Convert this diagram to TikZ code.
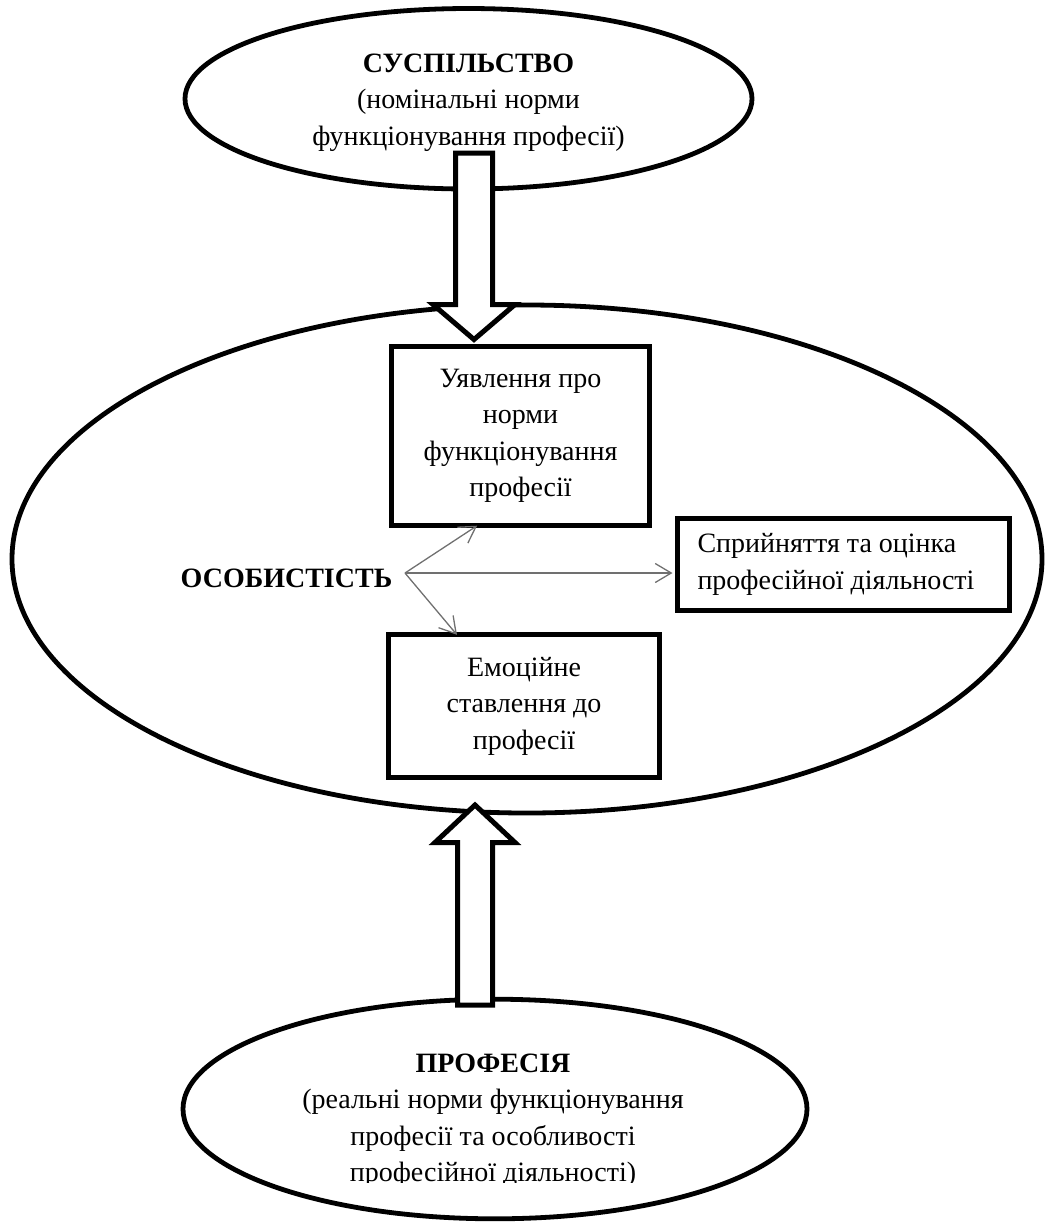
\documentclass[tikz,border=0pt]{standalone}
\usepackage{fontspec}
\setmainfont{Liberation Serif}
\usetikzlibrary{shapes.geometric,arrows.meta,calc}
\definecolor{arrowgray}{HTML}{707070}
\begin{document}
\begin{tikzpicture}[x=0.5pt,y=-0.5pt,
  font=\fontsize{14pt}{18.25pt}\selectfont,
  ell/.style={draw,ellipse,line width=2.4pt,inner sep=0pt,outer sep=0pt},
  rbox/.style={draw,fill=white,rectangle,line width=2.6pt,inner sep=0pt,outer sep=0pt,align=center},
  blockarrow/.style={draw,fill=white,line width=2.5pt,line join=miter,miter limit=10},
  garrow/.style={draw=arrowgray,line width=0.65pt,-{Straight Barb[length=8pt,width=9.5pt]}},
  txt/.style={align=center,inner sep=0pt}
]
\useasboundingbox (0,0) rectangle (1049,1223);

% ellipses
\node[ell, minimum width=515pt, minimum height=254pt] (pers) at (527,559) {};
\node[ell, minimum width=283.5pt, minimum height=90.25pt] (soc) at (468.5,98.75) {};
\node[ell, minimum width=312pt, minimum height=109.8pt] (prof) at (495,1109) {};

% block arrows
\draw[blockarrow] (455.5,153) -- (492.5,153) -- (492.5,304.5) -- (515,304.5) -- (474,339.5) -- (433,304.5) -- (455.5,304.5) -- cycle;
\draw[blockarrow] (457.5,1005) -- (492.5,1005) -- (492.5,842.5) -- (515,842.5) -- (475,805) -- (435,842.5) -- (457.5,842.5) -- cycle;

% boxes
\node[rbox, minimum width=129.2pt, minimum height=89.7pt] (idea) at (520.5,436) {Уявлення про\\норми\\функціонування\\професії};
\node[rbox, minimum width=135.7pt, minimum height=71.2pt] (emo) at (524,706) {Емоційне\\ставлення до\\професії};
\node[rbox, align=flush left, text width=146pt, inner xsep=10pt, minimum height=46.2pt] (perc) at (843.5,564.5) {Сприйняття та оцінка\\професійної діяльності};

% texts
\node[txt] (soct) at (468.5,102.3) {\textbf{СУСПІЛЬСТВО}\\(номінальні норми\\функціонування професії)};
\node[anchor=base, inner sep=0pt, font=\fontsize{14pt}{18.25pt}\selectfont\bfseries] (perst) at (286.5,587) {ОСОБИСТІСТЬ};
\begin{scope}
\clip (0,0) rectangle (1049,1182);
\node[txt] (proft) at (493,1120.5) {\textbf{ПРОФЕСІЯ}\\(реальні норми функціонування\\професії та особливості\\професійної діяльності)};
\end{scope}

% thin arrows
\coordinate (o) at (405,573);
\draw[garrow] (o) -- ($(idea.south west)!0.332!(idea.south east)$);
\draw[garrow, shorten >=2.5pt] (o) -- (o -| perc.west);
\draw[garrow] (o) -- ($(emo.north west)!0.253!(emo.north east)$);
\end{tikzpicture}
\end{document}
